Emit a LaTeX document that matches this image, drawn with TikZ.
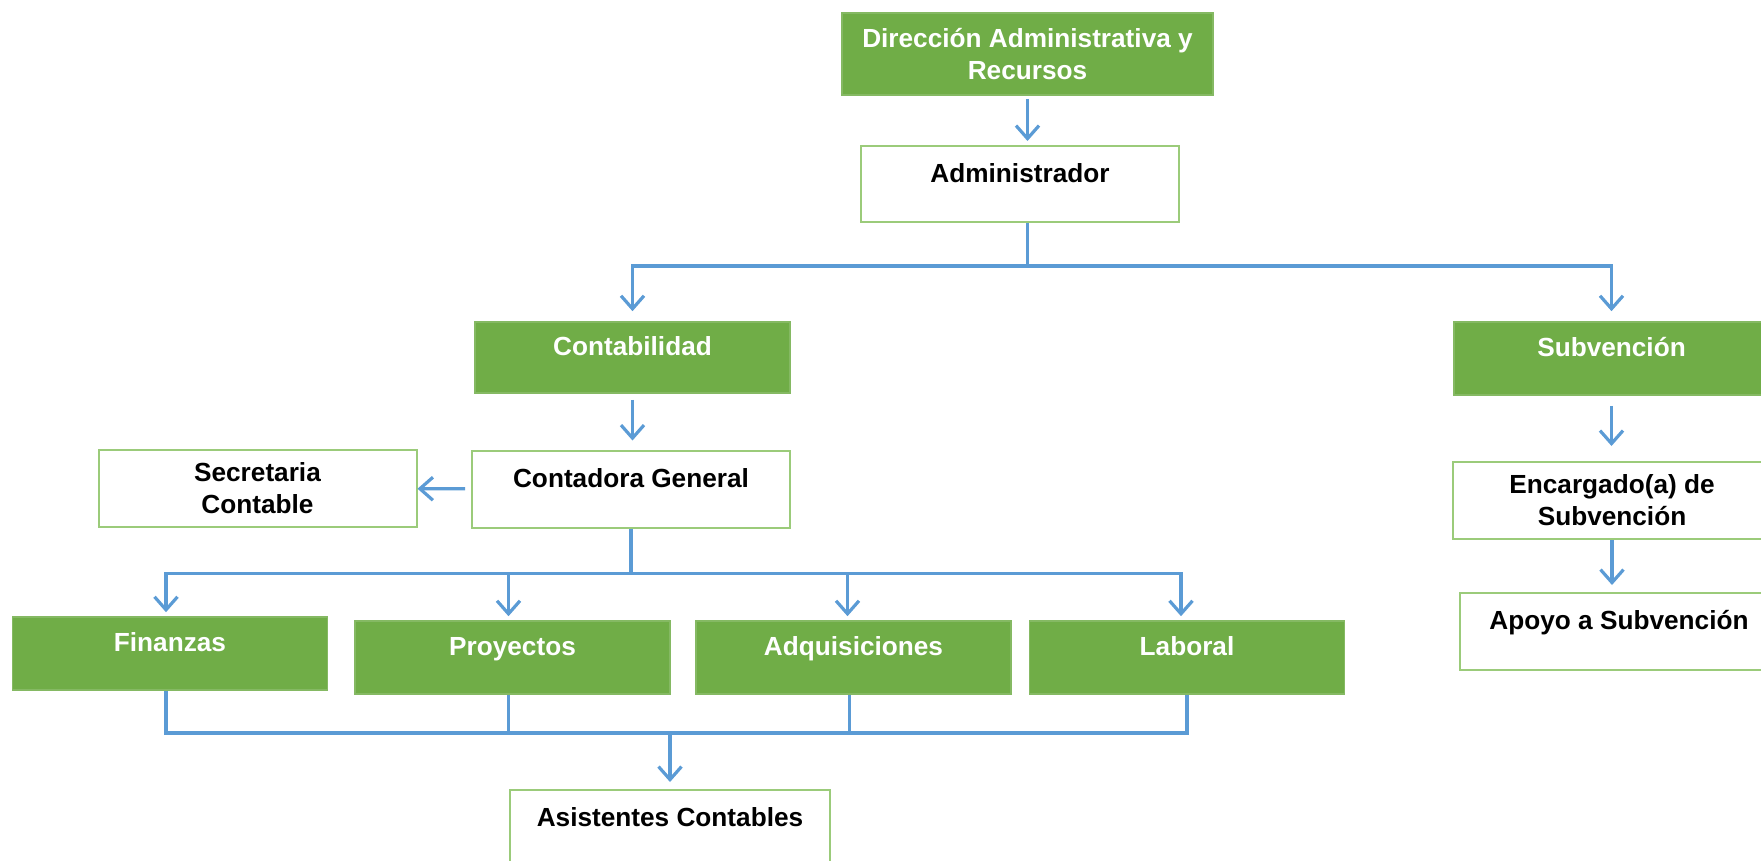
\documentclass[tikz,border=0pt]{standalone}
\usepackage{fontspec}
\setmainfont{Liberation Sans}
\usetikzlibrary{arrows.meta, positioning}
\definecolor{boxgreen}{HTML}{70AD47}
\definecolor{linegreen}{HTML}{9BCB7A}
\definecolor{linkblue}{HTML}{5B9BD5}

\begin{document}
\begin{tikzpicture}[
        x=0.5pt, y=-0.5pt,
        unit/.style={rectangle, minimum width=157.5pt, minimum height=36.5pt, align=center, inner sep=2pt, font=\fontsize{13.1}{16}\selectfont\bfseries},
        area/.style={unit, fill=boxgreen, draw=boxgreen!85!white, line width=0.8pt, text=white},
        post/.style={unit, fill=white, draw=linegreen, line width=1pt, text=black, minimum width=159pt, minimum height=38.5pt},
        raised/.style={text height=9pt, text depth=10.6pt},
        arrow/.style={-{Straight Barb[length=6.5pt, width=11.5pt]}, draw=linkblue, line width=1.6pt, shorten >=2pt},
        link/.style={draw=linkblue, line width=1.6pt}
    ]
    \useasboundingbox (0,0) rectangle (1761,861);
    \node[area, minimum width=185.5pt, minimum height=41pt] (dir) at (1027.5,54) {Dirección Administrativa y\\Recursos};
    \node[post, raised, minimum height=38pt] (adm) at (1020,184) {Administrador};
    \node[area, raised, minimum height=35.5pt] (cont) at (632.5,357.5) {Contabilidad};
    \node[area, raised] (subv) at (1611.5,358.5) {Subvención};
    \node[post, raised] (cg) at (631,489) {Contadora General};
    \node[post] (sec) at (257.5,488.5) {Secretaria\\Contable};
    \node[area, raised] (fin) at (170,653.5) {Finanzas};
    \node[area, raised] (proy) at (512.5,657.5) {Proyectos};
    \node[area, raised] (adq) at (853.5,657.5) {Adquisiciones};
    \node[area, raised] (lab) at (1187,657.5) {Laboral};
    \node[post, raised, minimum width=160pt, minimum height=38pt] (asis) at (670,828) {Asistentes Contables};
    \node[post] (enc) at (1612,500.5) {Encargado(a) de\\Subvención};
    \node[post, raised] (apoyo) at (1619,631.5) {Apoyo a Subvención};
    % top of the chart
    \draw[arrow, shorten <=1.5pt] (dir) -- (dir |- adm.north);
    \draw[link] (dir |- adm.south) -- ++(0,43) coordinate (busadm);
    \draw[arrow, shorten >=5pt] (busadm) -| (cont);
    \draw[arrow, shorten >=5pt] (busadm) -| (subv);
    % contabilidad branch
    \draw[arrow, shorten <=3pt, shorten >=4.5pt] (cont) -- (cont |- cg.north);
    \draw[arrow, shorten <=3pt, shorten >=0pt] (cg) -- (sec);
    \draw[link] (cg.south) -- ++(0,45) coordinate (buscg);
    \draw[arrow] (buscg) -| ([xshift=-2pt]fin.north);
    \draw[arrow] (buscg) -| ([xshift=-2pt]proy.north);
    \draw[arrow] (buscg) -| ([xshift=-3pt]adq.north);
    \draw[arrow] (buscg) -| ([xshift=-3pt]lab.north);
    \path (asis.north) ++(0,-56) coordinate (busasis);
    \draw[link] ([xshift=-2pt]fin.south) |- (busasis);
    \draw[link] ([xshift=-2pt]proy.south) |- (busasis);
    \draw[link] ([xshift=-2pt]adq.south) |- (busasis);
    \draw[link] (lab) |- (busasis);
    \draw[arrow, shorten >=3.5pt] (busasis) -- (asis);
    % subvencion branch
    \draw[arrow, shorten <=5pt, shorten >=7.5pt] (subv) -- (subv |- enc.north);
    \draw[arrow, shorten >=3.5pt] (enc) -- (enc |- apoyo.north);
\end{tikzpicture}
\end{document}
